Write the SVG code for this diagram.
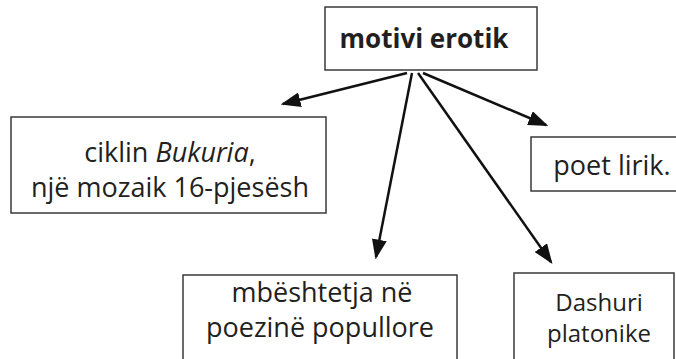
<svg xmlns="http://www.w3.org/2000/svg" width="676" height="359" viewBox="0 0 676 359">
<style>
.box{fill:#fff;stroke:#3a3a3a;stroke-width:1.5}
.t{font-family:"Open Sans","Noto Sans","Liberation Sans",sans-serif;fill:#231f20;text-anchor:middle;font-size:27px}
.b{font-weight:bold;font-size:26px}
.s{font-size:24px}
.c{stroke:#111;stroke-width:2.5;fill:none;marker-end:url(#ah)}
</style>
<defs>
<marker id="ah" markerWidth="8" markerHeight="6" refX="7" refY="3" orient="auto" markerUnits="strokeWidth">
<path d="M0,0 L8,3 L0,6 Z" fill="#111"/>
</marker>
</defs>
<rect width="676" height="359" fill="#fff"/>
<g id="connectors">
<line class="c" x1="407" y1="73" x2="283" y2="104"/>
<line class="c" x1="412" y1="73" x2="376" y2="257"/>
<line class="c" x1="418" y1="73" x2="551" y2="262"/>
<line class="c" x1="423" y1="73" x2="546" y2="125"/>
</g>
<g id="n-motivi">
<rect class="box" x="325" y="7" width="212" height="63"/>
<text class="t b" x="424" y="48">motivi erotik</text>
</g>
<g id="n-ciklin">
<rect class="box" x="11" y="117" width="315" height="96"/>
<text class="t" x="170" y="162">ciklin <tspan font-style="italic">Bukuria</tspan>,</text>
<text class="t" x="170" y="197">një mozaik 16-pjesësh</text>
</g>
<g id="n-poet">
<rect class="box" x="531" y="137" width="150" height="54"/>
<text class="t" x="612" y="175">poet lirik.</text>
</g>
<g id="n-mbeshtetja">
<rect class="box" x="183" y="275" width="274" height="100"/>
<text class="t" x="322" y="302">mbështetja në</text>
<text class="t" x="320" y="337">poezinë popullore</text>
</g>
<g id="n-dashuri">
<rect class="box" x="514" y="273" width="160" height="100"/>
<text class="t s" x="599" y="311">Dashuri</text>
<text class="t s" x="599" y="342">platonike</text>
</g>
</svg>
